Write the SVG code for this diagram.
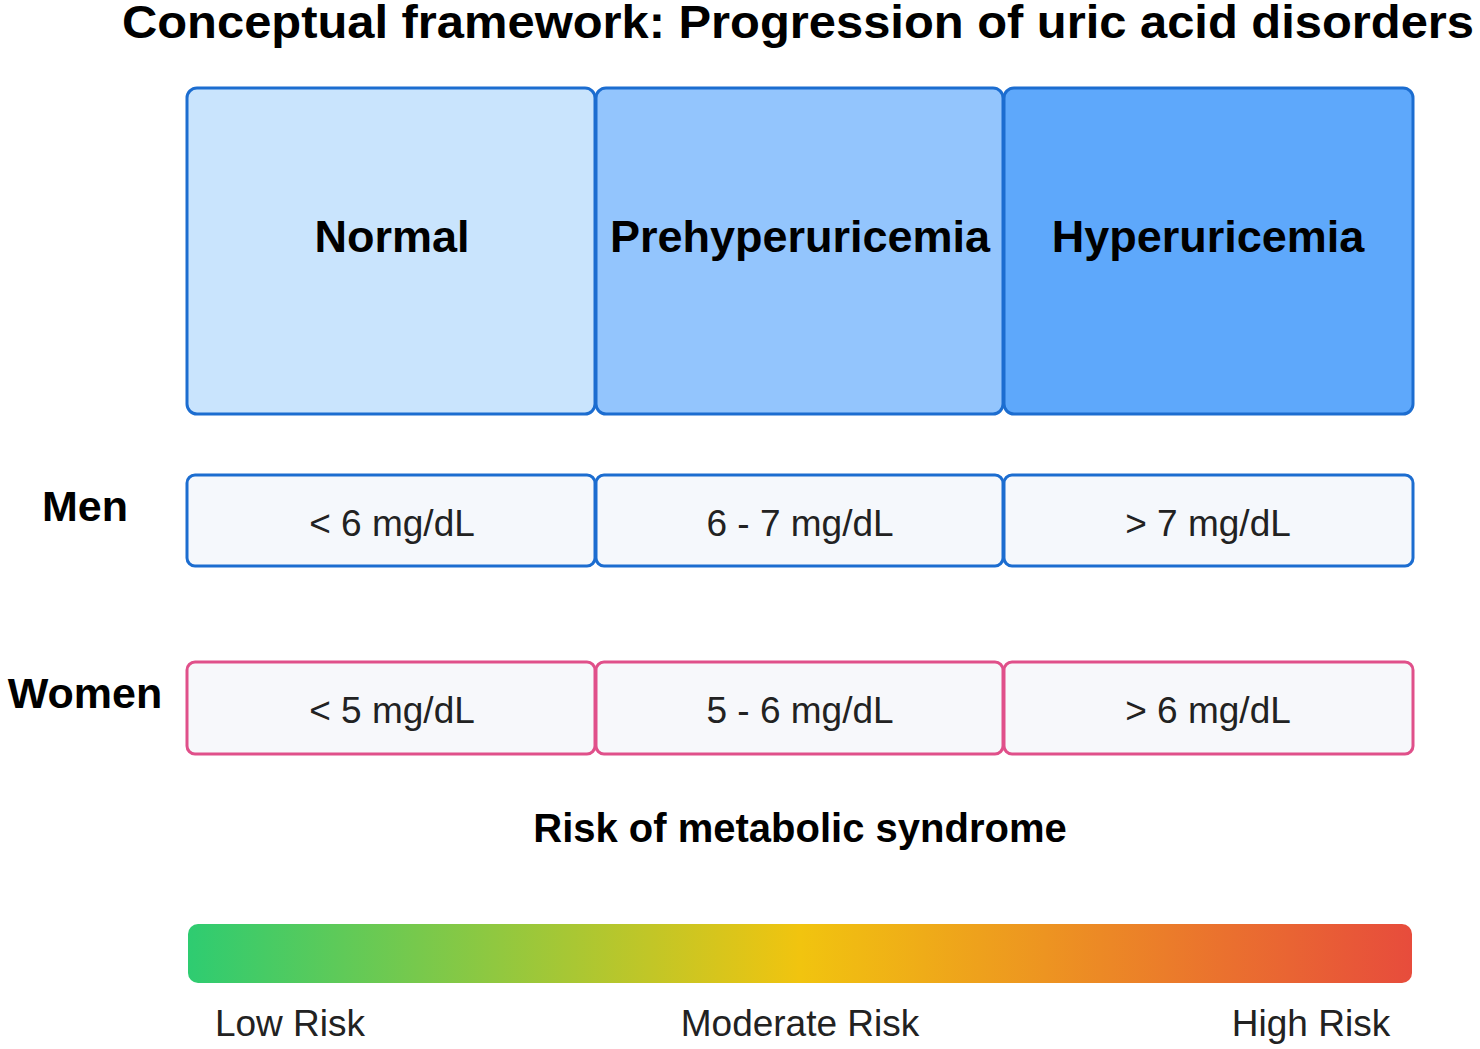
<svg xmlns="http://www.w3.org/2000/svg" width="1480" height="1049" viewBox="0 0 1480 1049">
<style>
text{font-family:"Liberation Sans",Arial,sans-serif;text-anchor:middle;fill:#000}
.b{font-weight:bold}
.stage{stroke:#1c6dd0;stroke-width:3}
.men{fill:#f5f8fc;stroke:#1c6dd0;stroke-width:3}
.wom{fill:#f7f8fb;stroke:#e0508a;stroke-width:3}
.v{font-size:37px;fill:#222}
.h{font-size:45px}
</style>
<defs><linearGradient id="g" x1="0" x2="1"><stop offset="0" stop-color="#2ecc71"/><stop offset="0.5" stop-color="#f1c40f"/><stop offset="1" stop-color="#e74c3c"/></linearGradient></defs>
<text class="b" x="798" y="38" font-size="46" textLength="1352" lengthAdjust="spacingAndGlyphs">Conceptual framework: Progression of uric acid disorders</text>
<g id="normal"><rect class="stage" x="187" y="88" width="408" height="326" rx="10" fill="#c9e4fd"/><text class="b h" x="392" y="252">Normal</text></g>
<g id="prehyper"><rect class="stage" x="596" y="88" width="407" height="326" rx="10" fill="#93c5fd"/><text class="b h" x="800" y="252">Prehyperuricemia</text></g>
<g id="hyper"><rect class="stage" x="1004" y="88" width="409" height="326" rx="10" fill="#5ea8fb"/><text class="b h" x="1208" y="252">Hyperuricemia</text></g>
<text class="b" x="85" y="521" font-size="43">Men</text>
<g id="men1"><rect class="men" x="187" y="475" width="408" height="91" rx="8"/><text class="v" x="392" y="536">&lt; 6 mg/dL</text></g>
<g id="men2"><rect class="men" x="596" y="475" width="407" height="91" rx="8"/><text class="v" x="800" y="536">6 - 7 mg/dL</text></g>
<g id="men3"><rect class="men" x="1004" y="475" width="409" height="91" rx="8"/><text class="v" x="1208" y="536">&gt; 7 mg/dL</text></g>
<text class="b" x="85" y="708" font-size="43">Women</text>
<g id="wom1"><rect class="wom" x="187" y="662" width="408" height="92" rx="8"/><text class="v" x="392" y="723">&lt; 5 mg/dL</text></g>
<g id="wom2"><rect class="wom" x="596" y="662" width="407" height="92" rx="8"/><text class="v" x="800" y="723">5 - 6 mg/dL</text></g>
<g id="wom3"><rect class="wom" x="1004" y="662" width="409" height="92" rx="8"/><text class="v" x="1208" y="723">&gt; 6 mg/dL</text></g>
<text class="b" x="800" y="842" font-size="40">Risk of metabolic syndrome</text>
<g id="bar"><rect x="188" y="924" width="1224" height="59" rx="10" fill="url(#g)"/></g>
<text class="v" x="290" y="1036">Low Risk</text>
<text class="v" x="800" y="1036">Moderate Risk</text>
<text class="v" x="1311" y="1036">High Risk</text>
<g id="connectors"/>
</svg>
